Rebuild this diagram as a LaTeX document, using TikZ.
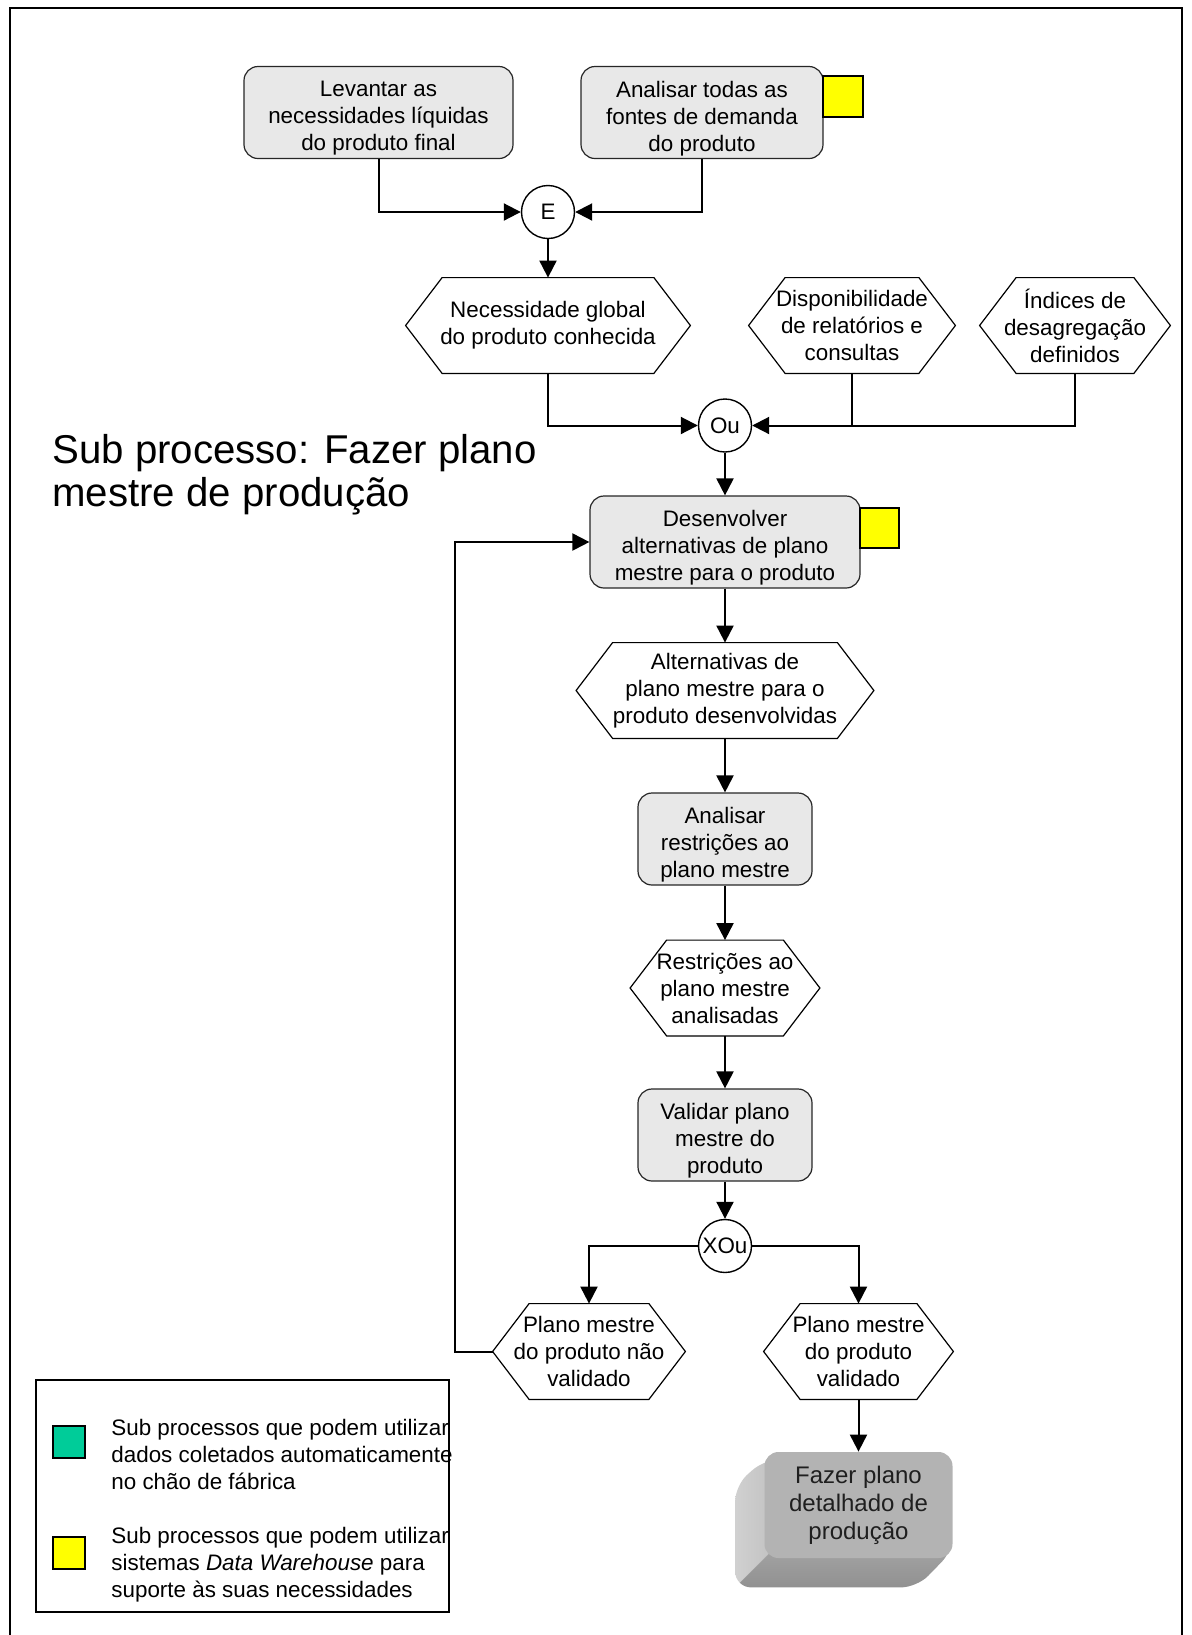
\documentclass[tikz,border=0pt]{standalone}
\usepackage{fontspec}
\setmainfont{Liberation Sans}
\usetikzlibrary{arrows.meta,calc,backgrounds,shadings}

\definecolor{boxgray}{HTML}{E8E8E8}
\definecolor{dwyellow}{HTML}{FFFF00}
\definecolor{autogreen}{HTML}{00CC99}
\definecolor{frontgray}{HTML}{B3B3B3}

\tikzset{
  conn/.style={line width=1pt, -{Triangle[length=8.5pt,width=8.5pt]}},
  plainline/.style={line width=1pt},
  func/.style={draw=black!85, line width=0.6pt, fill=boxgray, rounded corners=7pt,
    inner sep=0pt, minimum height=46pt},
  functext/.style={align=center, inner sep=0pt, yshift=-3pt,
    font=\fontsize{11.2}{13.5}\selectfont},
  evt/.style={align=center, inner sep=0pt, minimum height=47.5pt,
    font=\fontsize{11.2}{13.5}\selectfont},
  hexline/.style={draw, line width=0.6pt},
  gate/.style={circle, draw, line width=0.7pt, fill=white, minimum size=26.5pt,
    inner sep=0pt, font=\fontsize{11.2}{13}\selectfont},
  dwmark/.style={draw, line width=0.6pt, fill=dwyellow},
  legendtext/.style={anchor=west, align=left, inner sep=0pt,
    font=\fontsize{11.2}{13.5}\selectfont},
}

% function: rounded box with its text set slightly low
\newcommand\funcnode[5]{% name, x, y, width, text
  \node[func, minimum width=#4,
    label={[functext, name=#1-text]center:{#5}}] (#1) at (#2,#3) {};
}
% event: hexagon around a named node
\newcommand\evtnode[5]{% name, x, y, width, text
  \node[evt, minimum width=#4] (#1) at (#2,#3) {#5};
  \draw[hexline] (#1.west) -- ([xshift=18.25pt]#1.north west)
    -- ([xshift=-18.25pt]#1.north east) -- (#1.east)
    -- ([xshift=-18.25pt]#1.south east) -- ([xshift=18.25pt]#1.south west) -- cycle;
}

\begin{document}
\begin{tikzpicture}[x=0.5pt, y=-0.5pt]
\useasboundingbox (0,0) rectangle (1191,1635);

% frame, open at the bottom edge of the page
\draw[line width=1pt] (9.5,1640) -- (9.5,8) -- (1182,8) -- (1182,1640);

% title
\node[anchor=north west, align=left, inner sep=0pt,
  font=\fontsize{20.1}{21.6}\selectfont] (title) at (52,434)
  {Sub processo: Fazer plano\\mestre de produção};

% functions, events and gates
\funcnode{b1}{378.5}{112.5}{134.5pt}{Levantar as\\necessidades líquidas\\do produto final}
\funcnode{b2}{702}{112.5}{121pt}{Analisar todas as\\fontes de demanda\\do produto}
\draw[dwmark] (823,76) rectangle (863,117);

\node[gate] (e) at (548,212) {E};

\evtnode{h1}{548}{325.5}{142pt}{Necessidade global\\do produto conhecida}
\evtnode{h2}{852}{325.5}{103pt}{Disponibilidade\\de relatórios e\\consultas}
\evtnode{h3}{1075}{325.5}{95pt}{Índices de\\desagregação\\definidos}

\node[gate] (ou) at (725,425.5) {Ou};

\funcnode{b3}{725}{542}{135pt}{Desenvolver\\alternativas de plano\\mestre para o produto}
\draw[dwmark] (860,508) rectangle (899,548);

\evtnode{h4}{725}{690.5}{148.5pt}{Alternativas de\\plano mestre para o\\produto desenvolvidas}

\funcnode{b4}{725}{839}{87pt}{Analisar\\restrições ao\\plano mestre}

\evtnode{h5}{725}{988}{94.5pt}{Restrições ao\\plano mestre\\analisadas}

\funcnode{b5}{725}{1135}{87pt}{Validar plano\\mestre do\\produto}

\node[gate] (xou) at (725,1246) {XOu};

\evtnode{h6}{589}{1351.5}{96pt}{Plano mestre\\do produto não\\validado}
\evtnode{h7}{858.5}{1351.5}{94.5pt}{Plano mestre\\do produto\\validado}

% process interface block with its extruded sides
\node[fill=frontgray, rounded corners=7pt, minimum width=94pt, minimum height=53pt,
  inner sep=0pt, align=center, text=black!88,
  font=\fontsize{12}{14}\selectfont] (pd) at (858.5,1505)
  {Fazer plano\\detalhado de\\produção};
\begin{scope}[on background layer]
  \clip[rounded corners=8pt]
    ([yshift=-4pt]pd.north west) -- ([shift={(-29,34)}]pd.north west)
    -- ([shift={(-29,29)}]pd.south west) -- ([shift={(-36,29)}]pd.south east)
    -- ([yshift=4pt]pd.south east) -- (pd.north east) -- cycle;
  % left side face
  \shade[left color=black!13, right color=black!25]
    (700,1440) -- (780,1440) -- (780,1542.5) -- (720,1602.5) -- (700,1602.5) -- cycle;
  % bottom face
  \shade[top color=black!35, bottom color=black!46]
    (780,1542.5) -- (960,1542.5) -- (960,1602.5) -- (720,1602.5) -- cycle;
\end{scope}

% connectors
\draw[conn] (b1.south) |- (e.west);
\draw[conn] (b2.south) |- (e.east);
\draw[conn] (e.south) -- (h1.north);
\draw[conn] (h1.south) |- (ou.west);
\draw[conn] (h3.south) |- (ou.east);
\draw[plainline] (h2.south) -- (h2.south |- ou.east);
\draw[conn] (ou.south) -- (b3.north);
\draw[conn] (b3.south) -- (h4.north);
\draw[conn] (h4.south) -- (b4.north);
\draw[conn] (b4.south) -- (h5.north);
\draw[conn] (h5.south) -- (b5.north);
\draw[conn] (b5.south) -- (xou.north);
\draw[conn] (xou.west) -| (h6.north);
\draw[conn] (xou.east) -| (h7.north);
\coordinate (loop) at (455,1351.5);
\draw[conn] (h6.west) -- (loop) |- (b3.west);
\draw[conn] (h7.south) -- (pd.north);

% legend
\draw[line width=1pt] (36,1380) rectangle (449,1612);
\draw[line width=0.7pt, fill=autogreen] (53,1426) rectangle (85,1458);
\draw[line width=0.7pt, fill=dwyellow] (53,1537) rectangle (85,1569);
\node[legendtext] (lg1) at (111,1454)
  {Sub processos que podem utilizar\\dados coletados automaticamente\\no chão de fábrica};
\node[legendtext] (lg2) at (111,1565)
  {Sub processos que podem utilizar\\sistemas \textit{Data Warehouse} para\\suporte às suas necessidades};
\end{tikzpicture}
\end{document}
